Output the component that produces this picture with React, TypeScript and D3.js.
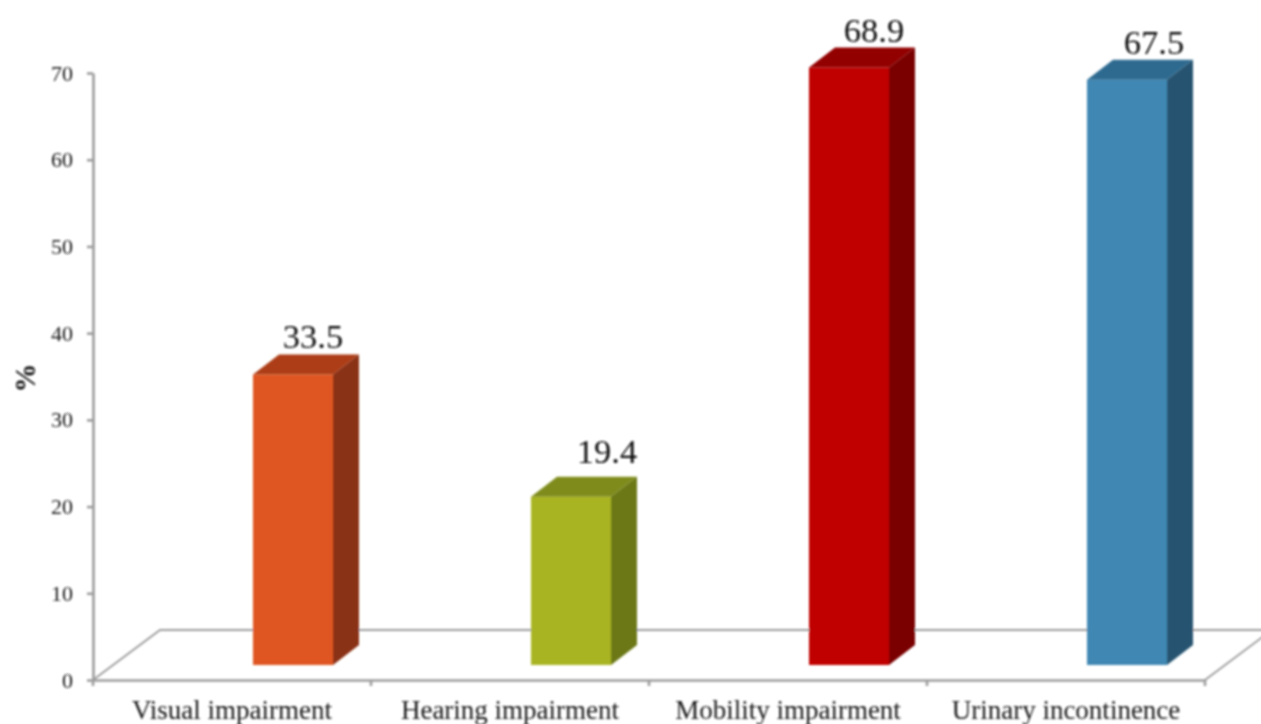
import React, { useEffect, useRef } from 'react';
import * as d3 from 'd3';

const categories = ['Visual impairment', 'Hearing impairment', 'Mobility impairment', 'Urinary incontinence'];
const values = [33.5, 19.4, 68.9, 67.5];
const yTicks = [0, 10, 20, 30, 40, 50, 60, 70];
const frontColors = ['#e05724', '#a8b420', '#c00000', '#3f87b3'];
const topColors = ['#ad3e18', '#7f8c1a', '#930000', '#2f6a90'];
const sideColors = ['#8a3316', '#6c7815', '#7a0000', '#26536f'];

const width = 1261;
const height = 724;
const axisColor = '#9c9c9c';
const serif = '"Liberation Serif", "Times New Roman", serif';

// layout of the fake 3d floor and boxes
const left = 93;
const right = 1205;
const baseY = 680;
const topY = 73;
const depthX = 26;
const depthY = 20;
const floorX = 67;
const floorY = 50;
const barLift = 15;
const barWidth = 80;
const barShift = 61;
const labelNudge = [
  { dx: 20, dy: -7 },
  { dx: 36, dy: -14 },
  { dx: 25, dy: -6 },
  { dx: 27, dy: -6 },
];

const App: React.FC = () => {
  const svgRef = useRef<SVGSVGElement>(null);

  useEffect(() => {
    const svg = d3.select(svgRef.current);
    svg.selectAll('*').remove();

    const root = svg.append('g').attr('filter', 'url(#soft)');
    const defs = svg.append('defs');
    defs.append('filter')
      .attr('id', 'soft')
      .attr('filterUnits', 'userSpaceOnUse')
      .attr('x', 0).attr('y', 0).attr('width', width).attr('height', height)
      .append('feGaussianBlur')
      .attr('stdDeviation', 0.8);

    const xScale = d3.scaleBand<string>().domain(categories).range([left, right]);
    const yScale = d3.scaleLinear().domain([0, 70]).range([baseY, topY]);

    // Floor
    root.append('path')
      .attr('d', `M${left},${baseY}L${left + floorX},${baseY - floorY}L${right + floorX},${baseY - floorY}L${right},${baseY}`)
      .attr('fill', 'none')
      .attr('stroke', axisColor)
      .attr('stroke-width', 1.8);

    // Y Axis
    const yAxis = root.append('g')
      .attr('transform', `translate(${left},0)`)
      .call(d3.axisLeft(yScale).tickValues(yTicks).tickSize(6).tickPadding(14).tickSizeOuter(0));
    yAxis.selectAll('text')
      .attr('fill', '#1a1a1a')
      .attr('font-size', 22)
      .attr('font-family', serif);

    // X Axis
    const xAxis = root.append('g')
      .attr('transform', `translate(0,${baseY})`)
      .call(d3.axisBottom(xScale).tickSize(0).tickPadding(20).tickSizeOuter(0));
    xAxis.selectAll('text')
      .attr('fill', '#1a1a1a')
      .attr('font-size', 27)
      .attr('font-family', serif);
    xAxis.selectAll('.tick line').remove();
    xAxis.selectAll('.sep')
      .data(d3.range(categories.length + 1))
      .enter().append('line')
      .attr('class', 'sep')
      .attr('x1', i => left + i * xScale.step())
      .attr('x2', i => left + i * xScale.step())
      .attr('y1', 0)
      .attr('y2', 6);

    root.selectAll('.domain, .tick line, .sep')
      .attr('stroke', axisColor)
      .attr('stroke-width', 2.6);

    // Boxes
    const box = root.selectAll('.box')
      .data(categories)
      .enter().append('g')
      .attr('class', 'box');

    const x0 = (c: string) => xScale(c)! + xScale.bandwidth() / 2 + barShift - barWidth / 2;
    const yTop = (i: number) => yScale(values[i]) - barLift;
    const yBottom = baseY - barLift;

    box.append('rect')
      .attr('x', d => x0(d))
      .attr('y', (_d, i) => yTop(i))
      .attr('width', barWidth)
      .attr('height', (_d, i) => yBottom - yTop(i))
      .attr('fill', (_d, i) => frontColors[i]);

    box.append('path')
      .attr('d', (d, i) => {
        const x = x0(d);
        return `M${x},${yTop(i)}l${depthX},${-depthY}h${barWidth}l${-depthX},${depthY}Z`;
      })
      .attr('fill', (_d, i) => topColors[i]);

    box.append('path')
      .attr('d', (d, i) => {
        const x = x0(d) + barWidth;
        return `M${x},${yTop(i)}l${depthX},${-depthY}V${yBottom - depthY}l${-depthX},${depthY}Z`;
      })
      .attr('fill', (_d, i) => sideColors[i]);

    // Value labels
    box.append('text')
      .attr('x', (d, i) => x0(d) + barWidth / 2 + labelNudge[i].dx)
      .attr('y', (_d, i) => yTop(i) - depthY + labelNudge[i].dy)
      .attr('text-anchor', 'middle')
      .attr('fill', '#111')
      .attr('font-size', 34.5)
      .attr('font-family', serif)
      .text((_d, i) => values[i].toFixed(1));

    // Y Axis Label
    root.append('text')
      .attr('transform', 'translate(35,378) rotate(-90)')
      .attr('text-anchor', 'middle')
      .attr('fill', '#111')
      .attr('font-size', 29)
      .attr('font-weight', 'bold')
      .attr('font-family', serif)
      .text('%');
  }, []);

  return (
    <svg
      ref={svgRef}
      width={width}
      height={height}
      style={{ position: 'absolute', left: 0, top: 0, background: '#fff' }}
    ></svg>
  );
};

export default App;
